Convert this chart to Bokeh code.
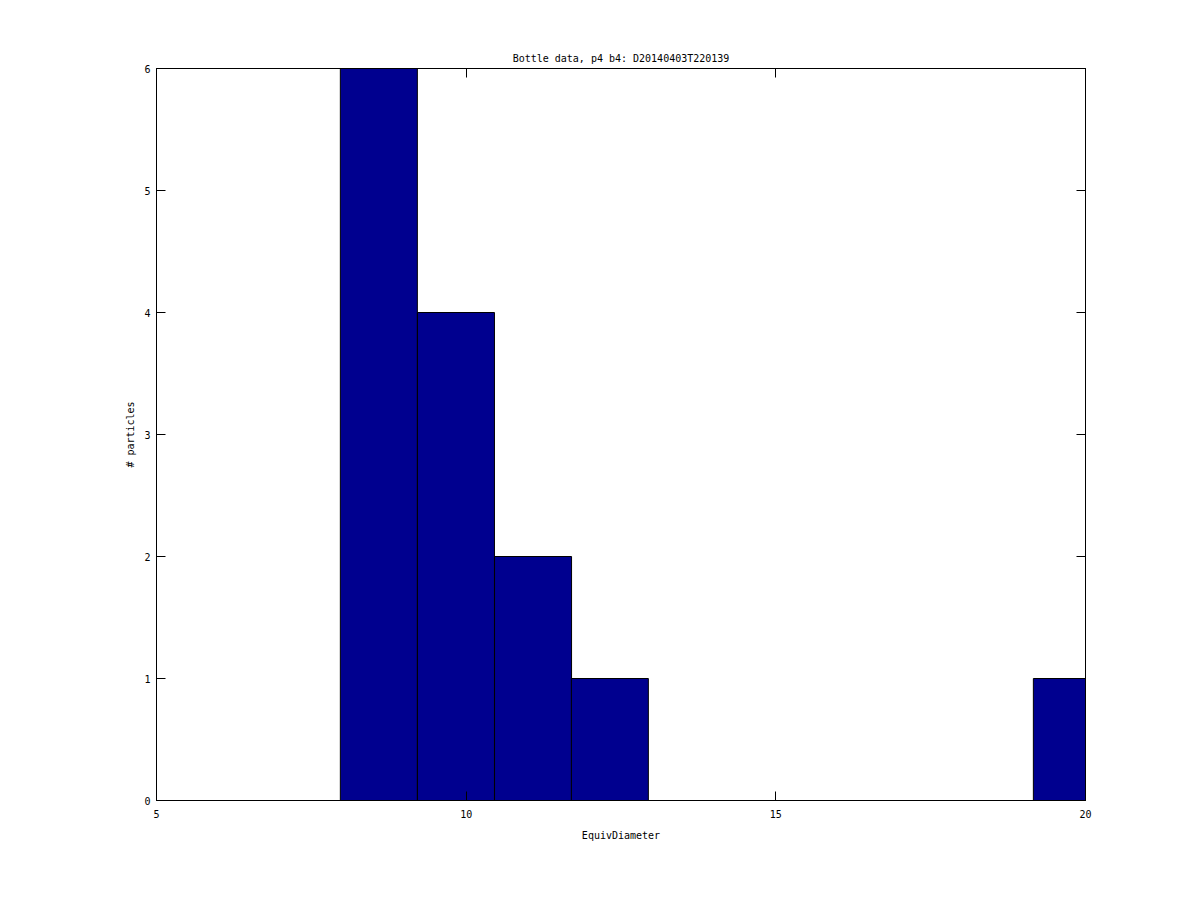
from bokeh.plotting import figure
from bokeh.models import LinearAxis, FixedTicker, Range1d
from bokeh.embed import file_html
from bokeh.resources import INLINE

# Histogram data
bin_centers = [8.59, 9.835, 11.08, 12.32, 13.565, 14.81, 16.05, 17.295, 18.54, 19.78]
counts = [6, 4, 2, 1, 0, 0, 0, 0, 0, 1]
bin_width = 1.2435
x_ticks = [5, 10, 15, 20]
y_ticks = [0, 1, 2, 3, 4, 5, 6]
title_text = "Bottle data, p4 b4: D20140403T220139"
x_label = "EquivDiameter"
y_label = "# particles"

FONT = "DejaVu Sans Mono"

p = figure(width=1200, height=900, output_backend="svg", toolbar_location=None,
           x_range=Range1d(5, 20), y_range=Range1d(0, 6),
           x_axis_location=None, y_axis_location=None,
           min_border_left=156, min_border_right=115, min_border_top=68, min_border_bottom=100)

p.grid.visible = False
p.outline_line_color = "black"
p.outline_line_width = 1
p.background_fill_color = "white"
p.border_fill_color = "white"

lefts = [c - bin_width / 2 for c in bin_centers]
rights = [c + bin_width / 2 for c in bin_centers]
p.quad(left=lefts, right=rights, bottom=[0] * len(counts), top=counts,
       fill_color="#00008F", line_color="black", line_width=1)

def mk_axis(show_labels, label=None):
    ax = LinearAxis()
    ax.ticker = FixedTicker(ticks=x_ticks)
    ax.major_tick_in = 9
    ax.major_tick_out = 0
    ax.minor_tick_line_color = None
    ax.axis_line_color = "black"
    ax.major_tick_line_color = "black"
    ax.major_label_text_font = FONT
    ax.major_label_text_font_size = "10px"
    ax.major_label_text_color = "black"
    ax.axis_label_text_font = FONT
    ax.axis_label_text_font_size = "10px"
    ax.axis_label_text_font_style = "normal"
    ax.axis_label_text_color = "black"
    if not show_labels:
        ax.major_label_text_font_size = "0px"
        ax.major_label_text_color = None
    if label:
        ax.axis_label = label
    return ax

xb = mk_axis(True, x_label)
xb.major_label_standoff = 9
xb.axis_label_standoff = 9
p.add_layout(xb, "below")
xt = mk_axis(False)
p.add_layout(xt, "above")

yl = mk_axis(True, y_label)
yl.ticker = FixedTicker(ticks=y_ticks)
yl.major_label_standoff = 6
yl.axis_label_standoff = 5
p.add_layout(yl, "left")
yr = mk_axis(False)
yr.ticker = FixedTicker(ticks=y_ticks)
p.add_layout(yr, "right")

p.title.text = title_text
p.title.align = "center"
p.title.text_font = FONT
p.title.text_font_size = "10px"
p.title.text_font_style = "normal"
p.title.text_color = "black"

open("out.html", "w").write(file_html(p, INLINE))
